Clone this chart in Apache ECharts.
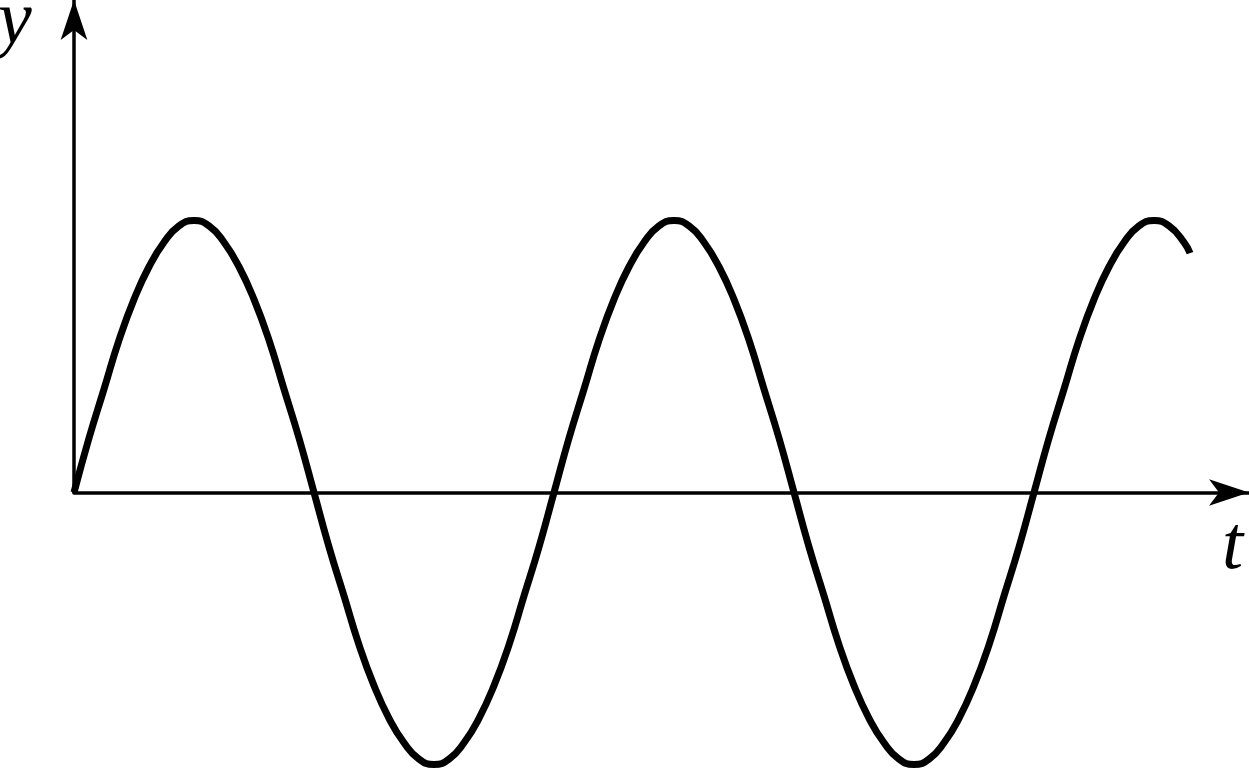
<!DOCTYPE html>
<html>
<head>
<meta charset="utf-8">
<script src="https://cdn.jsdelivr.net/npm/echarts@6/dist/echarts.min.js"></script>
<style>
html,body{margin:0;padding:0;background:#fff;}
#chart{width:1249px;height:774px;}
</style>
</head>
<body>
<div id="chart"></div>
<script>
// Values (t in units of 60 px, y in units of the amplitude)
const tValues = [0,0.25,0.5,0.75,1,1.25,1.5,1.75,2,2.25,2.5,2.75,3,3.25,3.5,3.75,
  4,4.25,4.5,4.75,5,5.25,5.5,5.75,6,6.25,6.5,6.75,7,7.25,7.5,7.75,
  8,8.25,8.5,8.75,9,9.25,9.5,9.75,10,10.25,10.5,10.75,11,11.25,11.5,11.75,
  12,12.25,12.5,12.75,13,13.25,13.5,13.75,14,14.25,14.5,14.75,15,15.25,15.5,15.75,
  16,16.25,16.5,16.75,17,17.25,17.5,17.75,18,18.25,18.5,18.6];
const yValues = [0,0.2,0.38,0.56,0.71,0.83,0.92,0.98,1,0.98,0.92,0.83,0.71,0.56,0.38,0.2,
  0,-0.2,-0.38,-0.56,-0.71,-0.83,-0.92,-0.98,-1,-0.98,-0.92,-0.83,-0.71,-0.56,-0.38,-0.2,
  0,0.2,0.38,0.56,0.71,0.83,0.92,0.98,1,0.98,0.92,0.83,0.71,0.56,0.38,0.2,
  0,-0.2,-0.38,-0.56,-0.71,-0.83,-0.92,-0.98,-1,-0.98,-0.92,-0.83,-0.71,-0.56,-0.38,-0.2,
  0,0.2,0.38,0.56,0.71,0.83,0.92,0.98,1,0.98,0.92,0.88];
const axisNames = ['t', 'y'];

const chart = echarts.init(document.getElementById('chart'));
const pts = tValues.map((t, i) => [t, yValues[i]]);
const arrowLine = {show: true, onZero: true, symbol: ['none', 'arrow'], symbolSize: [20, 40],
  lineStyle: {color: '#000', width: 3.5}};

chart.setOption({
  animation: false,
  backgroundColor: '#ffffff',
  grid: [
    {left: 74, right: 0, top: 0, bottom: 0, containLabel: false},
    {left: 74, right: 0, top: -7, bottom: 281.5, containLabel: false}
  ],
  xAxis: [
    {type: 'value', gridIndex: 0, min: 0, max: 19.583,
      axisLine: arrowLine,
      axisTick: {show: false}, axisLabel: {show: false}, splitLine: {show: false}},
    {type: 'value', gridIndex: 1, min: 0, max: 19.583, show: false}
  ],
  yAxis: [
    {type: 'value', gridIndex: 0, min: -1.0349, max: 1.8107, show: false},
    {type: 'value', gridIndex: 1, min: 0, max: 1.8364,
      axisLine: arrowLine,
      axisTick: {show: false}, axisLabel: {show: false}, splitLine: {show: false}}
  ],
  graphic: [
    {type: 'text', left: -2, top: -15, z: 10,
      style: {text: axisNames[1], font: 'italic 76px "Liberation Serif", "Times New Roman", serif', fill: '#000'}},
    {type: 'text', left: 1222, top: 510, z: 10,
      style: {text: axisNames[0], font: 'italic 76px "Liberation Serif", "Times New Roman", serif', fill: '#000'}}
  ],
  series: [{
    type: 'line',
    xAxisIndex: 0, yAxisIndex: 0,
    data: pts,
    smooth: true,
    showSymbol: false,
    clip: false,
    lineStyle: {color: '#000', width: 7, cap: 'butt'}
  }]
});
</script>
</body>
</html>
